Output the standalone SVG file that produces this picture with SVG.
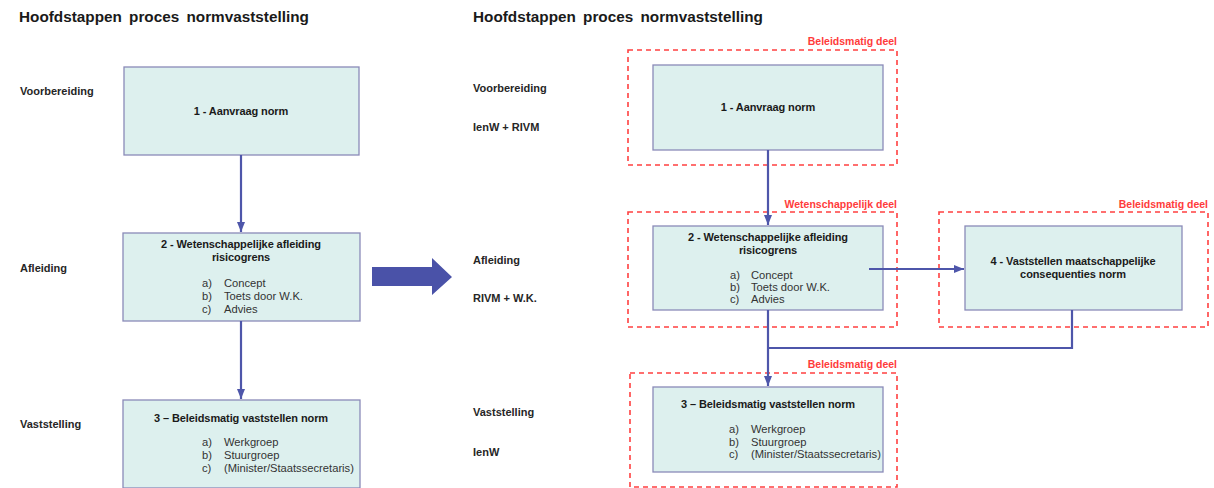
<svg xmlns="http://www.w3.org/2000/svg" width="1214" height="488" viewBox="0 0 1214 488">
<style>
text{font-family:"Liberation Sans",Arial,sans-serif;fill:#1a1a1a}
.title{font-size:15.3px;font-weight:bold;word-spacing:3px}
.lbl{font-size:11px;font-weight:bold;fill:#262626}
.bt{font-size:11px;font-weight:bold;text-anchor:middle;letter-spacing:-0.1px}
.li{font-size:11.2px;fill:#333}
.red{font-size:10.5px;font-weight:bold;fill:#ff3b3b;text-anchor:end}
.box{fill:#ddf0ee;stroke:#8a8ab8;stroke-width:1.3}
.dash{fill:none;stroke:#ff4040;stroke-width:1.6;stroke-dasharray:5,4}
.con{fill:none;stroke:#4e56aa;stroke-width:2.2}
</style>
<defs>
<marker id="ah" markerUnits="userSpaceOnUse" markerWidth="10" markerHeight="10" viewBox="0 0 10 10" refX="10" refY="5" orient="auto">
<path d="M0,1 L10,5 L0,9 Z" fill="#4e56aa"/>
</marker>
</defs>
<rect width="1214" height="488" fill="#ffffff"/>

<g id="titles">
<text class="title" x="19" y="22">Hoofdstappen proces normvaststelling</text>
<text class="title" x="473" y="22">Hoofdstappen proces normvaststelling</text>
</g>

<g id="labels-left">
<text class="lbl" x="20" y="95">Voorbereiding</text>
<text class="lbl" x="20" y="272">Afleiding</text>
<text class="lbl" x="20" y="428">Vaststelling</text>
</g>
<g id="labels-right">
<text class="lbl" x="473" y="92">Voorbereiding</text>
<text class="lbl" x="473" y="131">IenW + RIVM</text>
<text class="lbl" x="473" y="264">Afleiding</text>
<text class="lbl" x="473" y="302">RIVM + W.K.</text>
<text class="lbl" x="473" y="416">Vaststelling</text>
<text class="lbl" x="473" y="456">IenW</text>
</g>

<g id="groups">
<rect class="dash" x="628" y="50" width="269" height="115"/>
<text class="red" x="897" y="45">Beleidsmatig deel</text>
<rect class="dash" x="628" y="212" width="269" height="115"/>
<text class="red" x="897" y="208">Wetenschappelijk deel</text>
<rect class="dash" x="939" y="212" width="269" height="115"/>
<text class="red" x="1208" y="208">Beleidsmatig deel</text>
<rect class="dash" x="630" y="373" width="267" height="114"/>
<text class="red" x="897" y="368">Beleidsmatig deel</text>
</g>

<g id="L1">
<rect class="box" x="124" y="67" width="235" height="88"/>
<text class="bt" x="241" y="115">1 - Aanvraag norm</text>
</g>
<g id="L2">
<rect class="box" x="123" y="233" width="237" height="88"/>
<text class="bt" x="241" y="248">2 - Wetenschappelijke afleiding</text>
<text class="bt" x="241" y="261">risicogrens</text>
<text class="li" x="202" y="287">a)</text><text class="li" x="224" y="287">Concept</text>
<text class="li" x="202" y="300">b)</text><text class="li" x="224" y="300">Toets door W.K.</text>
<text class="li" x="202" y="313">c)</text><text class="li" x="224" y="313">Advies</text>
</g>
<g id="L3">
<rect class="box" x="123" y="400" width="237" height="88"/>
<text class="bt" x="241" y="422">3 – Beleidsmatig vaststellen norm</text>
<text class="li" x="202" y="446">a)</text><text class="li" x="224" y="446">Werkgroep</text>
<text class="li" x="202" y="459">b)</text><text class="li" x="224" y="459">Stuurgroep</text>
<text class="li" x="202" y="472">c)</text><text class="li" x="224" y="472">(Minister/Staatssecretaris)</text>
</g>

<g id="bigarrow">
<path d="M372,267 L432,267 L432,258 L452,277 L432,295 L432,286 L372,286 Z" fill="#4a52a8"/>
</g>

<g id="R1">
<rect class="box" x="653" y="65" width="230" height="85"/>
<text class="bt" x="768" y="111">1 - Aanvraag norm</text>
</g>
<g id="R2">
<rect class="box" x="653" y="226" width="230" height="84"/>
<text class="bt" x="768" y="241">2 - Wetenschappelijke afleiding</text>
<text class="bt" x="768" y="254">risicogrens</text>
<text class="li" x="730" y="279">a)</text><text class="li" x="751" y="279">Concept</text>
<text class="li" x="730" y="291">b)</text><text class="li" x="751" y="291">Toets door W.K.</text>
<text class="li" x="730" y="303">c)</text><text class="li" x="751" y="303">Advies</text>
</g>
<g id="R4">
<rect class="box" x="965" y="226" width="217" height="84"/>
<text class="bt" x="1073" y="265">4 - Vaststellen maatschappelijke</text>
<text class="bt" x="1073" y="278">consequenties norm</text>
</g>
<g id="R3">
<rect class="box" x="653" y="387" width="230" height="85"/>
<text class="bt" x="768" y="408">3 – Beleidsmatig vaststellen norm</text>
<text class="li" x="729" y="433">a)</text><text class="li" x="751" y="433">Werkgroep</text>
<text class="li" x="729" y="446">b)</text><text class="li" x="751" y="446">Stuurgroep</text>
<text class="li" x="729" y="458">c)</text><text class="li" x="751" y="458">(Minister/Staatssecretaris)</text>
</g>

<g id="connectors">
<path class="con" d="M241,155 L241,232" marker-end="url(#ah)"/>
<path class="con" d="M241,321 L241,399" marker-end="url(#ah)"/>
<path class="con" d="M768,150 L768,225" marker-end="url(#ah)"/>
<path class="con" d="M869,269 L964,269" marker-end="url(#ah)"/>
<path class="con" d="M1072,310 L1072,348 L768,348"/>
<path class="con" d="M768,310 L768,386" marker-end="url(#ah)"/>
</g>
</svg>
